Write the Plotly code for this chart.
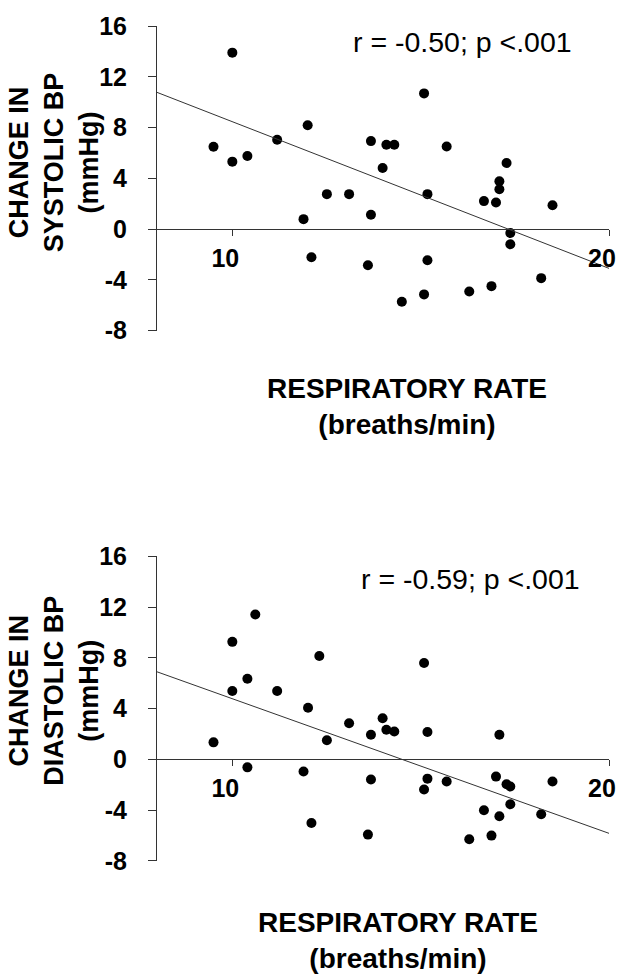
import plotly.graph_objects as go

# ---- data ----
resp_sys = [10.0, 9.5, 10.0, 10.4, 11.19, 12.0, 11.89, 12.1, 12.51, 13.1, 13.68, 13.68, 13.6,
            13.99, 14.09, 14.3, 15.09, 15.18, 15.18, 14.5, 15.09, 15.69, 16.29, 16.68, 17.0,
            17.09, 17.09, 17.28, 16.88, 17.38, 17.38, 18.2, 18.5]
delta_sys = [13.9, 6.48, 5.31, 5.75, 7.03, 8.18, 0.78, -2.22, 2.75, 2.75, 6.93, 1.12, -2.85,
             4.81, 6.64, 6.64, 10.69, 2.75, -2.46, -5.73, -5.15, 6.51, -4.92, 2.2, 2.09,
             3.76, 3.14, 5.2, -4.5, -0.31, -1.2, -3.87, 1.88]

resp_dia = [9.5, 10.0, 10.0, 10.4, 10.4, 10.61, 11.19, 12.01, 11.89, 12.1, 12.31, 12.51, 13.1,
            13.68, 13.68, 13.6, 13.99, 14.09, 14.3, 15.09, 15.18, 15.18, 15.09, 15.69, 16.29,
            16.68, 17.0, 17.09, 17.09, 16.88, 17.28, 17.38, 17.38, 18.2, 18.5]
delta_dia = [1.35, 9.27, 5.4, 6.36, -0.62, 11.43, 5.4, 4.08, -0.94, -5.01, 8.16, 1.51, 2.86,
             1.95, -1.58, -5.92, 3.25, 2.34, 2.21, 7.61, 2.16, -1.51, -2.36, -1.74, -6.29,
             -4.0, -1.35, 1.95, -4.47, -6.0, -1.95, -2.13, -3.53, -4.31, -1.74]

fit_x = [8, 20]
fit_sys = [10.77, -3.1]
fit_dia = [6.91, -5.82]

x_tickvals = [10, 20]
x_ticktext = ["10", "20"]
y_tickvals = [-8, -4, 0, 4, 8, 12, 16]
y_ticktext = ["-8", "-4", "0", "4", "8", "12", "16"]

stat_sys = "r = -0.50; p <.001"
stat_dia = "r = -0.59; p <.001"
ytitle_sys = "CHANGE IN<br>SYSTOLIC BP<br>(mmHg)"
ytitle_dia = "CHANGE IN<br>DIASTOLIC BP<br>(mmHg)"
xtitle = "RESPIRATORY RATE<br>(breaths/min)"

# ---- layout geometry ----
W, H = 628, 979
ML, MR, MT, MB = 157, 19, 22, 118
PW, PH = W - ML - MR, H - MT - MB

def px(x):
    return (x - ML) / PW

def py(y):
    return (H - MB - y) / PH

top_dom = [py(328), 1.0]
bot_dom = [0.0, py(555)]
YMIN, YMAX = -8, 16
zero_frac = (0 - YMIN) / (YMAX - YMIN)

FONT = "Liberation Sans, Arial, sans-serif"

fig = go.Figure()
marker = dict(color="black", size=10)
fig.add_trace(go.Scatter(x=resp_sys, y=delta_sys, mode="markers", marker=marker,
                         xaxis="x", yaxis="y", showlegend=False))
fig.add_trace(go.Scatter(x=fit_x, y=fit_sys, mode="lines", line=dict(color="#333", width=1),
                         xaxis="x", yaxis="y", showlegend=False))
fig.add_trace(go.Scatter(x=resp_dia, y=delta_dia, mode="markers", marker=marker,
                         xaxis="x2", yaxis="y2", showlegend=False))
fig.add_trace(go.Scatter(x=fit_x, y=fit_dia, mode="lines", line=dict(color="#333", width=1),
                         xaxis="x2", yaxis="y2", showlegend=False))

tickfont = dict(family=FONT, size=25, color="black", weight="bold")
xcommon = dict(range=[8, 20], domain=[0, 1], tickvals=x_tickvals, ticktext=x_ticktext,
               showline=True, linecolor="#333", linewidth=1, ticks="outside", ticklen=6,
               tickcolor="#333", showgrid=False, zeroline=False, tickfont=tickfont,
               ticklabelstandoff=1, ticklabelshift=-7, anchor="free")
ycommon = dict(range=[YMIN, YMAX], tickvals=y_tickvals, ticktext=y_ticktext,
               showline=True, linecolor="#333", linewidth=1, ticks="outside", ticklen=8,
               tickcolor="#333", showgrid=False, zeroline=False, tickfont=tickfont,
               ticklabelstandoff=16)

fig.update_layout(
    width=W, height=H, margin=dict(l=ML, r=MR, t=MT, b=MB),
    paper_bgcolor="white", plot_bgcolor="white",
    xaxis=dict(**xcommon, position=top_dom[0] + (top_dom[1] - top_dom[0]) * zero_frac),
    yaxis=dict(**ycommon, domain=top_dom, anchor="x"),
    xaxis2=dict(**xcommon, position=bot_dom[0] + (bot_dom[1] - bot_dom[0]) * zero_frac),
    yaxis2=dict(**ycommon, domain=bot_dom, anchor="x2"),
)

titlefont = dict(family=FONT, size=27, color="black", weight="bold")
xtitlefont = dict(family=FONT, size=28, color="black", weight="bold")
statfont = dict(family=FONT, size=28.5, color="black")
ann = [
    dict(text=stat_sys, x=px(462), y=py(38), font=statfont),
    dict(text=stat_dia, x=px(470), y=py(578), font=statfont),
    dict(text=ytitle_sys, x=px(54), y=py(159), font=titlefont, textangle=-90),
    dict(text=ytitle_dia, x=px(54), y=py(690), font=titlefont, textangle=-90),
    dict(text=xtitle, x=px(407), y=py(404), font=xtitlefont),
    dict(text=xtitle, x=px(398), y=py(941), font=xtitlefont),
]
for a in ann:
    fig.add_annotation(xref="paper", yref="paper", showarrow=False,
                       xanchor="center", yanchor="middle", **a)

fig.write_html("out.html", config={"displayModeBar": False},
               post_script="document.body.style.margin='0';document.body.style.overflow='hidden';")
